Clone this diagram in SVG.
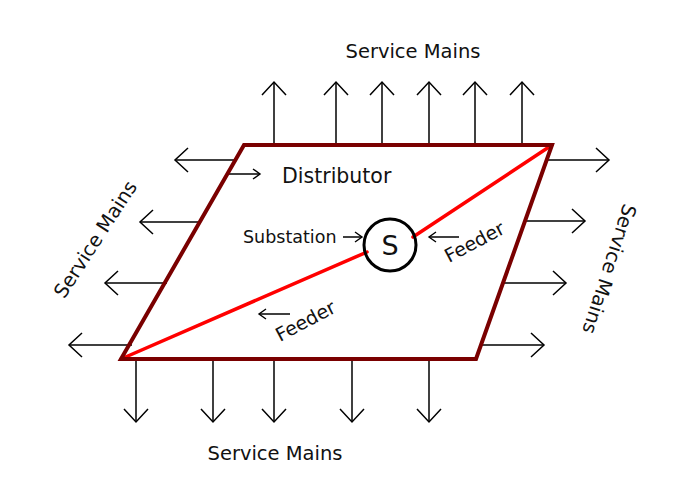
<svg xmlns="http://www.w3.org/2000/svg" width="680" height="503" viewBox="0 0 680 503">
<style>
  text { font-family: "DejaVu Sans", "Liberation Sans", sans-serif; fill: #111; }
  .lbl { font-size: 19.5px; }
  .sm { font-size: 17.5px; }
  .fd { font-size: 19px; }
  .arr { stroke: #000; stroke-width: 1.5; fill: none; marker-end: url(#big); }
  .sarr { stroke: #000; stroke-width: 1.5; fill: none; marker-end: url(#small); }
  .feeder { stroke: #ff0000; stroke-width: 3.5; fill: none; stroke-linecap: round; }
</style>
<defs>
  <marker id="big" markerUnits="userSpaceOnUse" orient="auto" refX="0" refY="0" markerWidth="30" markerHeight="30" viewBox="-15 -15 30 30" overflow="visible">
    <path d="M-13,-12 L0,0 L-13,12" fill="none" stroke="#000" stroke-width="1.5"/>
  </marker>
  <marker id="small" markerUnits="userSpaceOnUse" orient="auto" refX="0" refY="0" markerWidth="20" markerHeight="20" viewBox="-10 -10 20 20" overflow="visible">
    <path d="M-7,-5 L0,0 L-7,5" fill="none" stroke="#000" stroke-width="1.4"/>
  </marker>
</defs>
<rect width="680" height="503" fill="#fff"/>

<g id="connectors">
  <!-- top service mains -->
  <line class="arr" x1="274" y1="144" x2="274" y2="82"/>
  <line class="arr" x1="336" y1="144" x2="336" y2="82"/>
  <line class="arr" x1="382" y1="144" x2="382" y2="82"/>
  <line class="arr" x1="429" y1="144" x2="429" y2="82"/>
  <line class="arr" x1="475" y1="144" x2="475" y2="82"/>
  <line class="arr" x1="522" y1="144" x2="522" y2="82"/>
  <!-- left service mains -->
  <line class="arr" x1="235" y1="160" x2="175" y2="160"/>
  <line class="arr" x1="201" y1="222" x2="140" y2="222"/>
  <line class="arr" x1="167" y1="283" x2="105" y2="283"/>
  <line class="arr" x1="132" y1="345" x2="69" y2="345"/>
  <!-- right service mains -->
  <line class="arr" x1="548" y1="160" x2="609" y2="160"/>
  <line class="arr" x1="525" y1="221" x2="585" y2="221"/>
  <line class="arr" x1="504" y1="283" x2="566" y2="283"/>
  <line class="arr" x1="482" y1="345" x2="544" y2="345"/>
  <!-- bottom service mains -->
  <line class="arr" x1="136" y1="360" x2="136" y2="422"/>
  <line class="arr" x1="213" y1="360" x2="213" y2="422"/>
  <line class="arr" x1="274" y1="360" x2="274" y2="422"/>
  <line class="arr" x1="352" y1="360" x2="352" y2="422"/>
  <line class="arr" x1="429" y1="360" x2="429" y2="422"/>
  <!-- label pointers -->
  <line class="sarr" x1="228" y1="174" x2="260" y2="174"/>
  <line class="sarr" x1="343" y1="237" x2="362" y2="237"/>
  <line class="sarr" x1="459" y1="237" x2="429" y2="237"/>
  <line class="sarr" x1="290" y1="314" x2="259" y2="314"/>
  <!-- feeders -->
  <line class="feeder" x1="121" y1="359" x2="367" y2="252"/>
  <line class="feeder" x1="413" y1="237" x2="552" y2="145"/>
</g>

<g id="distributor">
  <polygon points="244,145 552,145 476,359 121,359" fill="none" stroke="#7a0000" stroke-width="4" stroke-linejoin="miter"/>
  <text x="282" y="183" font-size="20.5">Distributor</text>
</g>

<g id="substation">
  <circle cx="390" cy="245" r="26" fill="none" stroke="#000" stroke-width="3"/>
  <text x="390" y="255" text-anchor="middle" font-size="27" font-weight="500">S</text>
  <text class="sm" x="243" y="243">Substation</text>
</g>

<g id="feeder-labels">
  <text class="fd" x="0" y="0" transform="translate(449,263) rotate(-28)">Feeder</text>
  <text class="fd" x="0" y="0" transform="translate(280,342) rotate(-28)">Feeder</text>
</g>

<g id="service-mains-labels">
  <text class="lbl" x="413" y="58" text-anchor="middle">Service Mains</text>
  <text class="lbl" x="275" y="460" text-anchor="middle">Service Mains</text>
  <text class="lbl" x="0" y="0" text-anchor="middle" transform="translate(101,243) rotate(-57)">Service Mains</text>
  <text class="lbl" x="0" y="0" text-anchor="middle" transform="translate(603,267) rotate(108)">Service Mains</text>
</g>
</svg>
